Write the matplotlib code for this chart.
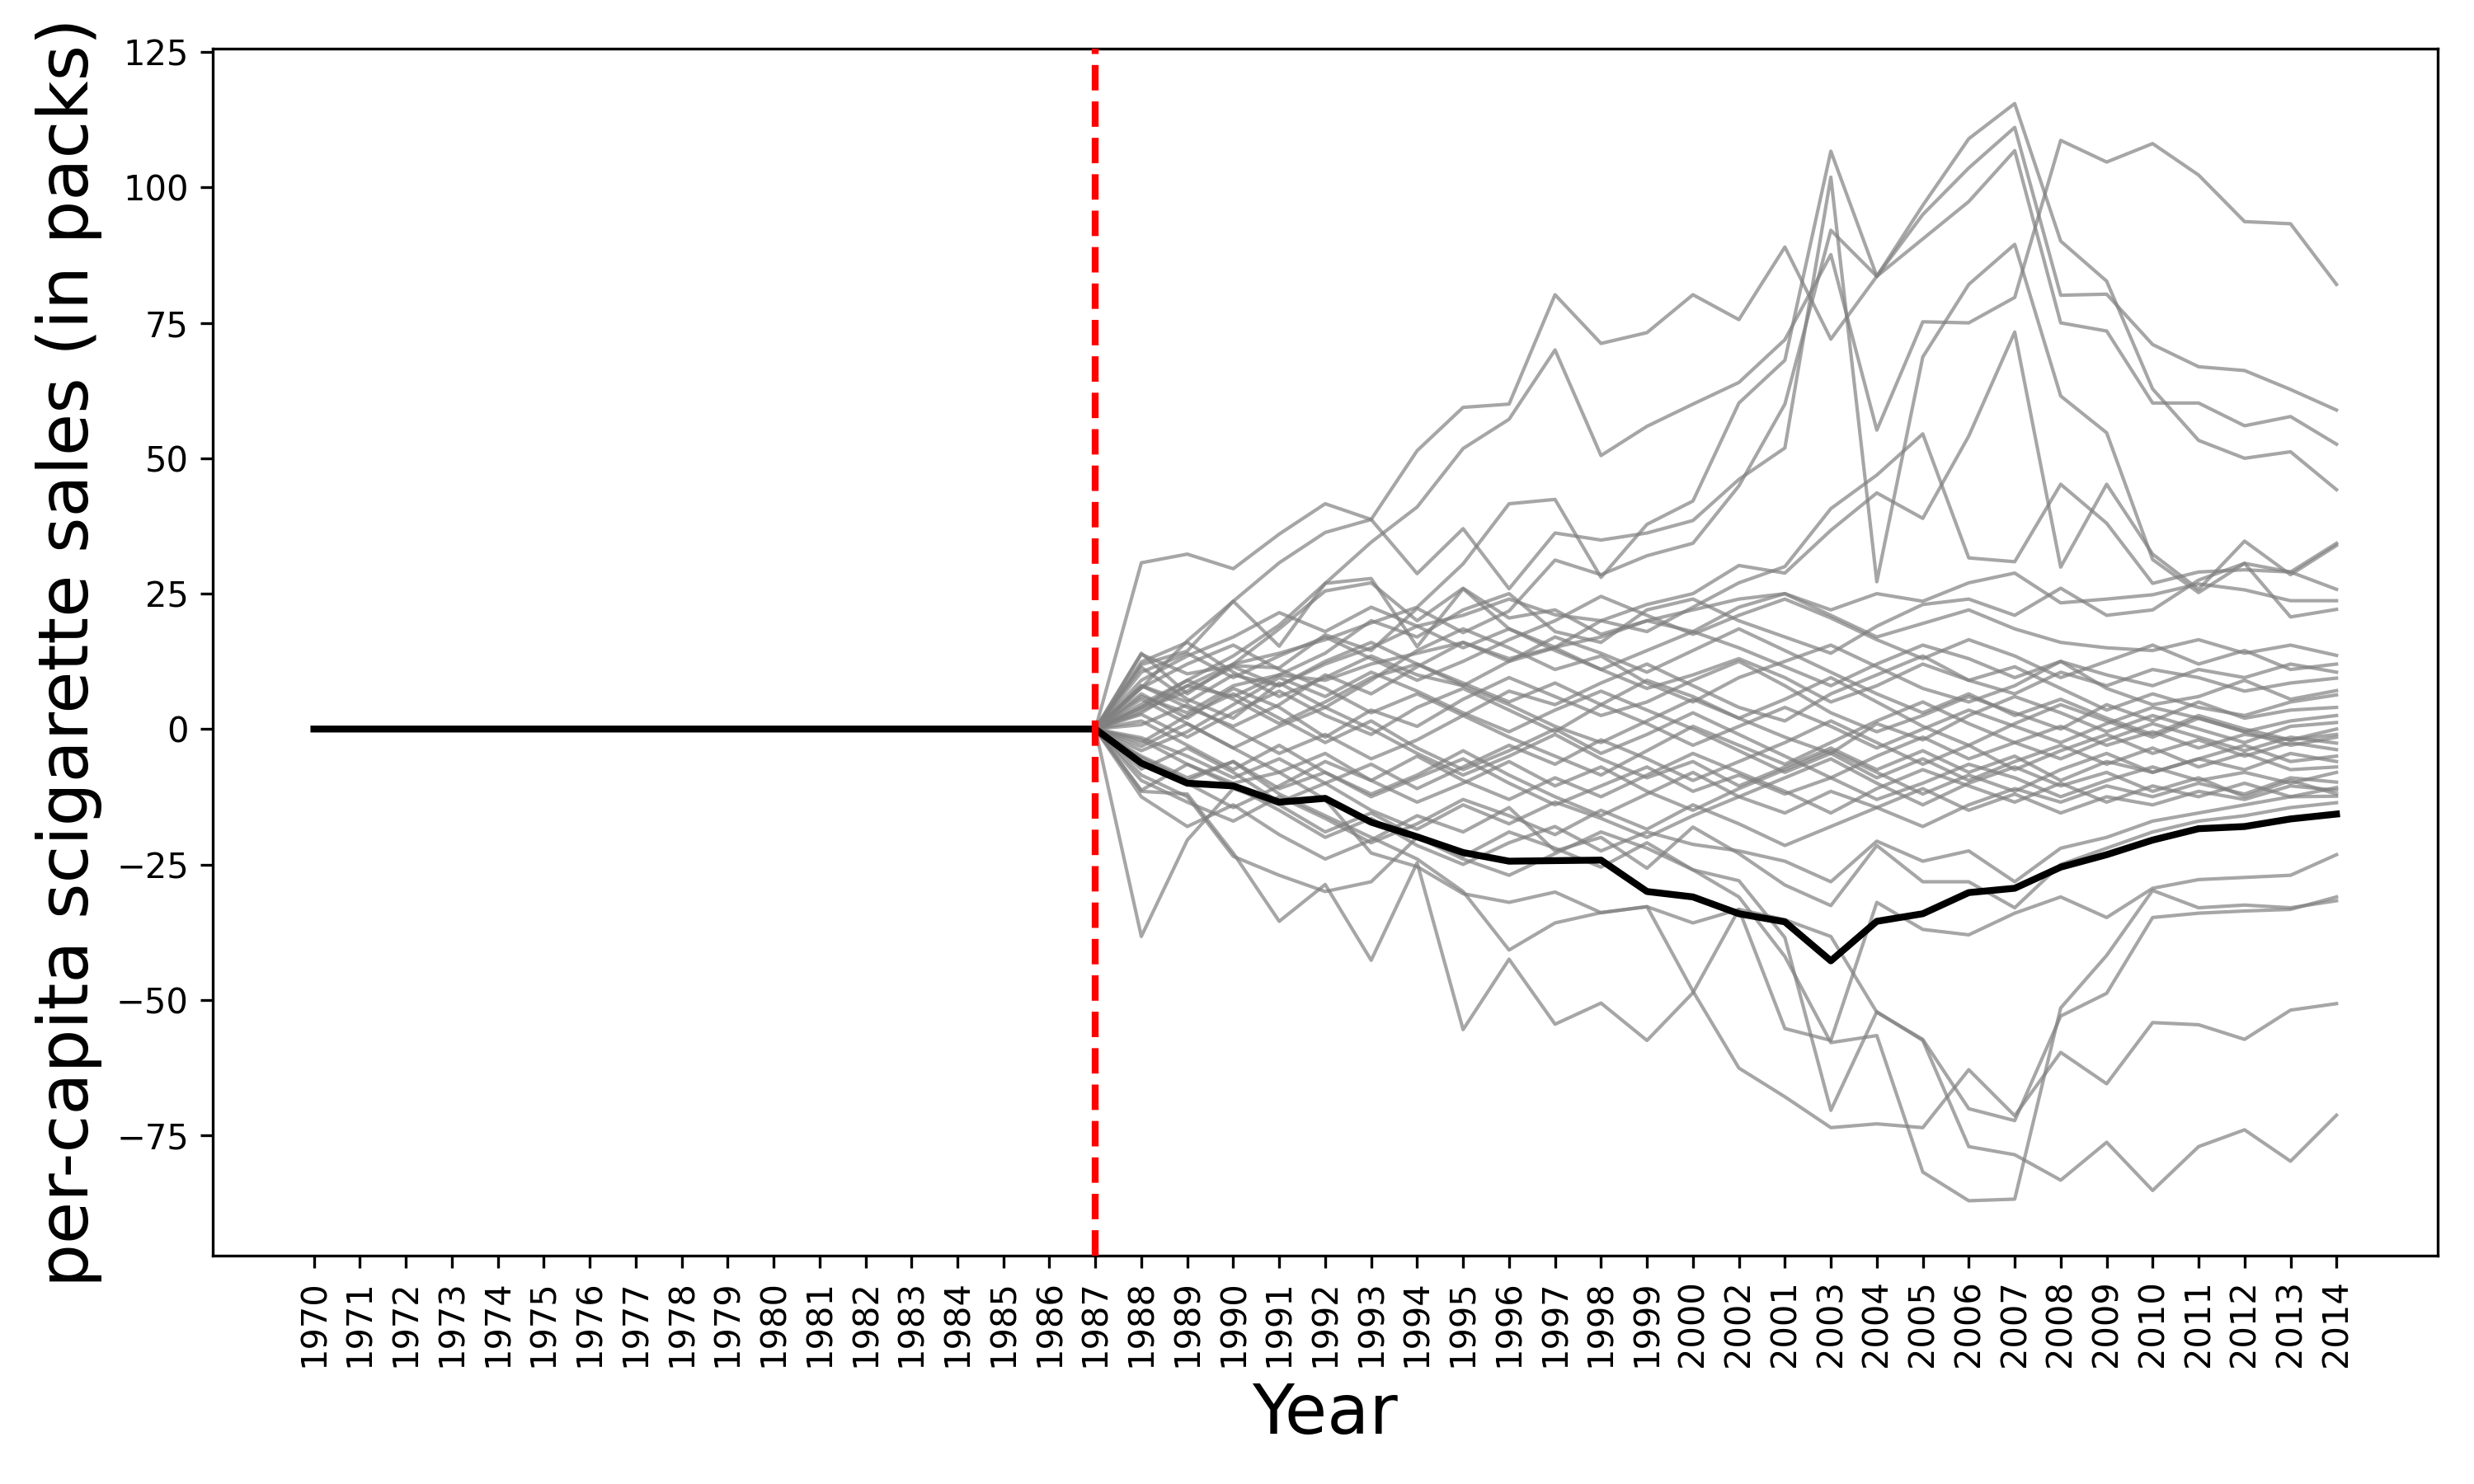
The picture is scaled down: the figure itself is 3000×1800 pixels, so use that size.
#!/usr/bin/env python3
# -*- coding: utf-8 -*-
import matplotlib
matplotlib.use("Agg")
import matplotlib.pyplot as plt

# x categories, in the order they appear on the axis (2002 comes before 2001)
years = [str(y) for y in range(1970, 2001)] + ["2002", "2001"] + \
        [str(y) for y in range(2003, 2015)]
post_years = years[17:]          # 1987 .. 2014

# treated unit (black line)
treated = [0.0] * 17 + [
    0.0, -6.3, -10.0, -10.5, -13.5, -12.8, -17.2, -19.9, -22.8, -24.4,
    -24.3, -24.2, -30.0, -31.0, -34.1, -35.6, -42.8, -35.5, -34.1, -30.2,
    -29.4, -25.5, -23.2, -20.5, -18.4, -18.0, -16.6, -15.7]

# placebo units (grey lines), 1987 .. 2014
s01 = [0, 7.6, 16.3, 23.6, 30.7, 36.3, 38.7, 51.4, 59.4, 60.0, 80.2, 71.2, 73.2, 80.2,
       75.6, 89.0, 72.0, 83.6, 96.7, 109.0, 115.5, 90.1, 82.7, 62.8, 53.3, 50.0, 51.2, 44.2]
s02 = [0, 3.0, 8.0, 12.0, 14.0, 16.5, 19.6, 22.5, 30.5, 41.6, 42.4, 28.0, 37.8, 42.1,
       60.2, 68.1, 106.7, 83.6, 95.0, 103.6, 111.1, 80.1, 80.3, 71.0, 66.9, 66.2, 62.7, 58.9]
s03 = [0, 30.7, 32.3, 29.6, 36.0, 41.6, 38.7, 28.7, 37.0, 25.9, 36.2, 34.9, 36.2, 38.5,
       46.1, 51.9, 101.9, 27.2, 68.7, 82.1, 89.5, 61.5, 54.7, 31.3, 25.2, 30.6, 29.0, 34.3]
s04 = [0, 4.0, 9.0, 13.5, 19.2, 26.9, 34.5, 41.0, 51.8, 57.2, 70.0, 50.5, 55.9, 60.0,
       64.0, 71.9, 87.6, 55.2, 75.2, 75.0, 79.7, 108.7, 104.7, 108.1, 102.3, 93.7, 93.3, 82.1]
s05 = [0, 13.8, 10.2, 11.7, 11.3, 17.4, 14.5, 22.3, 17.8, 21.8, 31.2, 28.5, 32.0, 34.3,
       44.9, 60.0, 92.1, 83.6, 90.5, 97.4, 106.8, 75.0, 73.5, 60.2, 60.2, 56.0, 57.7, 52.6]
s06 = [0, 11.9, 14.4, 23.6, 15.3, 26.9, 27.8, 15.2, 25.9, 18.5, 15.1, 20.0, 18.0, 22.5,
       27.0, 30.0, 40.7, 46.9, 54.5, 31.6, 30.9, 45.2, 38.0, 26.9, 29.0, 29.4, 29.0, 25.8]
s07 = [0, 8.0, 5.0, 10.0, 8.0, 12.0, 15.0, 19.0, 21.0, 24.0, 21.1, 20.0, 23.0, 25.0,
       30.2, 28.8, 36.7, 43.6, 38.9, 54.1, 73.3, 29.9, 45.2, 32.3, 25.8, 34.7, 28.5, 33.9]
s08 = [0, 6.0, 3.0, 8.0, 10.0, 9.0, 12.0, 14.0, 16.0, 13.0, 15.1, 17.0, 20.0, 22.0,
       24.0, 25.0, 22.0, 25.0, 23.6, 27.0, 28.8, 23.3, 24.0, 24.8, 26.8, 25.7, 23.7, 23.7]
s09 = [0, 4.0, 8.0, 6.0, 10.0, 14.0, 20.0, 17.0, 22.0, 25.0, 18.0, 16.0, 22.0, 24.0,
       20.0, 17.0, 14.0, 19.0, 23.0, 24.0, 21.0, 26.0, 21.0, 22.0, 27.5, 30.6, 20.7, 22.1]

b01 = [0, 14.0, 6.5, 12.0, 18.5, 25.5, 27.0, 20.0, 26.0, 20.5, 22.0, 17.5, 20.0, 18.0,
       22.5, 25.0, 21.0, 17.0, 19.5, 22.0, 18.5, 16.0, 15.0, 14.5, 16.5, 14.0, 15.5, 13.6]
b02 = [0, 12.4, 16.0, 10.5, 6.0, 9.5, 13.5, 10.0, 8.0, 12.5, 15.0, 11.0, 7.5, 10.0,
       13.0, 9.5, 5.0, 8.0, 12.0, 9.0, 6.5, 10.5, 8.0, 11.0, 9.5, 7.0, 8.5, 9.4]
b03 = [0, 11.4, 5.5, 2.0, 8.5, 4.0, 9.0, 14.5, 18.5, 15.0, 11.0, 13.5, 8.5, 5.0,
       9.5, 12.5, 15.5, 11.5, 7.5, 5.0, 8.0, 12.5, 7.5, 4.5, 6.0, 9.0, 5.5, 7.1]
b04 = [0, 7.6, 12.0, 15.5, 11.0, 7.5, 3.0, 6.5, 2.5, 7.0, 4.5, 8.5, 12.0, 8.0,
       4.0, 1.5, 6.5, 10.0, 13.5, 9.0, 11.5, 7.5, 3.5, 6.5, 4.0, 2.5, 5.0, 6.3]
b05 = [0, 6.5, 2.0, 7.5, 4.0, -1.5, 3.5, 0.5, 5.5, 9.5, 6.0, 2.5, 5.0, 9.0,
       12.5, 8.0, 3.0, -0.5, 2.5, 6.0, 3.0, 0.0, 4.5, 1.5, 5.0, 2.0, 3.5, 4.0]
b06 = [0, 4.6, 9.0, 5.5, 1.0, 5.0, 9.5, 12.0, 8.0, 4.5, 0.5, -2.5, 1.5, 5.5,
       2.0, -1.5, -4.5, 1.0, -2.0, 2.5, 6.0, 3.0, -0.5, 2.5, 0.0, -2.5, 0.5, 1.2]
b07 = [0, 2.7, -1.5, 3.0, 7.0, 2.5, -1.0, 4.0, 7.5, 3.5, -0.5, 4.5, 9.0, 6.0,
       2.0, 5.5, 9.5, 5.0, 0.5, -3.0, 1.0, 4.5, 1.5, -1.5, 2.0, -0.5, -3.0, -1.5]
b08 = [0, 0.8, 4.5, 0.0, -4.5, -1.0, -5.5, -2.0, 2.5, -1.5, -5.0, -8.5, -4.0, 0.5,
       -3.0, -6.5, -2.5, 1.5, 5.0, 1.0, -2.5, -5.5, -2.0, 1.0, -1.5, -4.0, -1.5, -2.6]
b09 = [0, -1.6, -5.0, -9.0, -5.5, -10.0, -6.5, -11.0, -7.0, -3.0, -6.5, -2.0, -5.5, -9.5,
       -6.0, -2.5, 1.5, -2.5, -6.5, -3.0, -7.5, -4.0, -1.0, -4.5, -2.0, -5.0, -2.5, -3.8]
b10 = [0, -3.2, 1.0, -3.5, 0.5, 4.0, 0.0, -4.5, -8.5, -5.0, -1.0, -5.5, -9.0, -6.0,
       -10.5, -7.0, -3.5, -7.5, -4.0, -8.0, -5.0, -9.5, -6.0, -8.0, -5.5, -7.5, -4.5, -6.0]
b11 = [0, -5.3, -9.5, -6.0, -11.0, -8.0, -12.5, -9.0, -5.5, -10.0, -14.0, -10.5, -7.0, -11.5,
       -8.5, -12.0, -9.0, -13.0, -10.0, -6.5, -9.0, -12.5, -9.5, -7.0, -9.5, -8.0, -10.0, -8.0]
b12 = [0, -7.4, -3.5, -8.0, -13.5, -10.0, -15.0, -18.5, -14.0, -17.5, -13.5, -16.5, -20.0, -16.0,
       -12.5, -15.5, -11.5, -14.5, -18.0, -14.0, -11.0, -13.5, -10.5, -12.5, -10.0, -12.0, -9.0, -9.8]
b13 = [0, -9.5, -13.5, -17.0, -12.5, -16.5, -21.0, -17.5, -13.0, -16.0, -19.5, -15.0, -18.5, -14.0,
       -17.5, -21.5, -18.0, -14.5, -11.0, -15.0, -12.0, -15.5, -12.5, -14.0, -11.5, -13.0, -10.5, -11.3]
b14 = [0, -11.3, -6.5, -10.5, -15.0, -20.0, -16.5, -21.5, -25.0, -21.0, -18.0, -22.5, -19.0, -21.3,
       -22.5, -24.4, -28.2, -20.7, -24.4, -22.5, -28.2, -22.0, -20.0, -17.0, -15.5, -14.0, -12.5, -12.4]
b15 = [0, -12.5, -18.0, -14.0, -19.5, -24.0, -20.5, -16.0, -19.0, -14.5, -22.5, -20.0, -25.7, -18.1,
       -23.0, -28.8, -32.6, -21.5, -28.2, -28.2, -33.0, -25.0, -22.0, -19.0, -17.0, -16.0, -14.5, -13.6]
b16 = [0, 9.0, 13.5, 17.0, 21.5, 18.0, 22.5, 19.0, 15.0, 18.5, 14.5, 11.0, 14.5, 18.0,
       15.0, 11.5, 8.0, 12.0, 15.5, 13.0, 9.5, 12.5, 10.0, 8.0, 11.0, 9.5, 12.0, 10.5]
b17 = [0, 3.5, 7.0, 11.5, 8.0, 12.5, 16.0, 12.0, 8.5, 5.0, 8.5, 4.5, 1.0, -3.0,
       0.5, 4.0, 0.5, -3.5, 0.0, 3.5, 0.5, -2.5, 1.0, 4.0, 2.0, -0.5, 1.5, 2.5]
b18 = [0, -2.5, 2.5, 6.5, 2.0, -2.5, 1.5, -3.5, -7.5, -4.0, 0.0, -4.5, -1.0, 3.0,
       -1.0, -5.0, -9.0, -5.0, -1.5, -5.5, -2.5, 0.5, -3.0, -0.5, -3.5, -1.0, -2.0, 0.0]
b19 = [0, 5.5, 1.0, -3.5, -8.0, -4.5, -9.5, -13.5, -10.0, -6.0, -10.5, -7.0, -11.5, -15.0,
       -11.0, -7.5, -4.0, -8.0, -12.0, -8.5, -11.5, -7.5, -4.5, -8.0, -5.5, -3.0, -6.0, -5.0]
b20 = [0, -6.5, -10.0, -14.5, -10.5, -6.0, -9.5, -5.0, -9.5, -13.0, -9.0, -12.5, -8.5, -4.5,
       -8.0, -11.5, -15.5, -11.0, -7.5, -10.5, -13.5, -10.0, -13.5, -10.5, -12.5, -10.0, -12.5, -10.8]
b21 = [0, 8.0, 4.0, 0.5, 4.5, 10.0, 6.5, 11.5, 16.0, 12.5, 17.0, 14.0, 10.5, 14.5,
       18.5, 14.5, 10.5, 6.5, 3.0, 6.5, 2.5, 5.5, 2.0, -1.0, 2.5, 0.0, -2.0, -1.0]
b22 = [0, -4.0, -0.5, 4.5, 9.5, 6.0, 10.5, 7.0, 3.0, -0.5, 3.5, 7.0, 3.5, 0.0,
       -4.0, -8.0, -4.5, -9.0, -5.5, -9.5, -6.0, -3.0, -6.5, -3.5, -7.0, -4.5, -7.5, -7.0]
b23 = [0, 1.5, -3.0, -7.5, -3.0, -8.0, -12.0, -8.5, -4.0, -8.5, -12.5, -16.0, -12.0, -8.0,
       -12.5, -9.0, -5.5, -10.0, -14.0, -10.0, -7.0, -10.5, -8.0, -11.5, -9.0, -12.5, -9.5, -12.0]
b24 = [0, 10.5, 14.0, 9.5, 13.5, 17.0, 13.0, 9.0, 12.5, 16.5, 20.0, 24.5, 21.0, 17.5,
       21.0, 24.0, 20.5, 16.5, 13.0, 16.5, 13.5, 9.5, 12.5, 15.5, 12.0, 14.5, 11.0, 12.0]

lc = [0, -11.5, -12.0, -22.9, -35.5, -28.7, -42.7, -24.7, -55.5, -42.5, -54.5, -50.6, -57.5, -48.7,
      -33.3, -55.3, -57.5, -32.0, -37.0, -38.0, -34.0, -31.0, -34.8, -29.4, -27.8, -27.4, -27.0, -23.2]
la = [0, -38.3, -20.5, -11.0, -14.0, -19.0, -15.5, -20.0, -23.5, -19.0, -22.0, -25.5, -21.0, -26.0,
      -28.0, -38.5, -70.4, -52.2, -57.5, -77.1, -78.6, -83.3, -76.3, -85.2, -77.1, -74.0, -79.8, -71.3]
lb = [0, -5.0, -9.0, -6.0, -12.0, -16.0, -20.0, -24.0, -30.0, -40.8, -35.8, -33.9, -32.8, -48.4,
      -62.6, -67.9, -73.6, -72.9, -73.6, -62.9, -71.4, -59.7, -65.5, -54.2, -54.6, -57.3, -51.9, -50.7]
lcc = [0, -8.5, -12.5, -23.5, -27.0, -30.0, -28.2, -20.0, -24.0, -27.0, -23.0, -19.0, -22.0, -26.0,
       -31.0, -42.0, -57.9, -56.6, -81.8, -87.1, -86.8, -51.5, -41.8, -29.8, -33.0, -32.5, -33.0, -31.7]
ld = [0, -2.0, -6.5, -10.0, -8.0, -13.0, -22.9, -25.4, -30.4, -32.0, -30.1, -33.9, -32.8, -35.8,
      -33.3, -35.2, -38.3, -52.3, -57.3, -70.1, -72.3, -53.0, -48.8, -34.8, -34.0, -33.6, -33.3, -31.0]

placebos = [s01, s02, s03, s04, s05, s06, s07, s08, s09,
            b01, b02, b03, b04, b05, b06, b07, b08, b09, b10, b11, b12,
            b13, b14, b15, b16, b17, b18, b19, b20, b21, b22, b23, b24,
            lc, la, lb, lcc, ld]


def main():
    fig, ax = plt.subplots(figsize=(10, 6), dpi=300)
    fig.subplots_adjust(left=0.086, right=0.9853, bottom=0.1539, top=0.9672)

    # black first so the category order follows the full year list
    ax.plot(years, treated, color="black", linewidth=2, zorder=3)
    for p in placebos:
        ax.plot(post_years, p, color="gray", alpha=0.7, linewidth=1, zorder=2)

    ax.axvline(x="1987", color="red", linestyle="--", linewidth=2, zorder=4)

    plt.xticks(rotation=90)
    ax.set_xlabel("Year", fontsize=20)
    ax.set_ylabel("per-capita scigarette sales (in packs)", fontsize=20)

    fig.savefig("out.png", dpi=300)


if __name__ == "__main__":
    main()
